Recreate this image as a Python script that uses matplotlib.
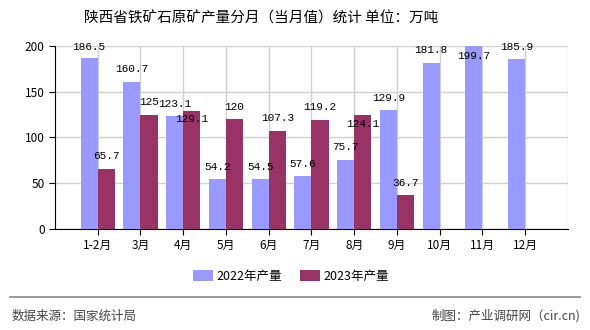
import matplotlib.pyplot as plt
import numpy as np

plt.rcParams['font.family'] = ['Noto Sans CJK SC', 'DejaVu Sans']

months = ['1-2月', '3月', '4月', '5月', '6月', '7月', '8月', '9月', '10月', '11月', '12月']
prod_2022 = [186.5, 160.7, 123.1, 54.2, 54.5, 57.6, 75.7, 129.9, 181.8, 199.7, 185.9]
prod_2023 = [65.7, 125, 129.1, 120, 107.3, 119.2, 124.1, 36.7]

c22 = '#9999FF'
c23 = '#993366'

fig = plt.figure(figsize=(5.9, 3.3), dpi=100)
ax = fig.add_axes([0.0932, 0.306, 0.8695, 0.555])

x = np.arange(len(months))
w = 0.4
b1 = ax.bar(x - w / 2, prod_2022, w, color=c22, label='2022年产量', zorder=3)
x2 = np.arange(len(prod_2023))
b2 = ax.bar(x2 + w / 2, prod_2023, w, color=c23, label='2023年产量', zorder=3)

# value labels (some sit just under the bar top, like the original)
for i, v in enumerate(prod_2022):
    off = min(9, (200 - v) * 0.66 - 0.5) if v < 199 else -7
    ax.annotate(f'{v:g}', (i - w / 2, v), xytext=(0, off), textcoords='offset points',
                ha='center', va='center', fontsize=8, family='Liberation Mono', zorder=5)
below = [2, 6]
for i, v in enumerate(prod_2023):
    off = -6 if i in below else 9
    ax.annotate(f'{v:g}', (i + w / 2, v), xytext=(0, off), textcoords='offset points',
                ha='center', va='center', fontsize=8, family='Liberation Mono', zorder=5)

ax.set_xlim(-1, 11)
ax.set_ylim(0, 200)
ax.set_yticks([0, 50, 100, 150, 200])
ax.set_xticks(x)
ax.set_xticklabels(months)
ax.tick_params(axis='both', labelsize=8.5, length=4, color='black')
ax.grid(True, color='#d0d0d0', linewidth=1, zorder=0)
ax.axvline(11, color='#d0d0d0', linewidth=1, zorder=0)
for s in ['top', 'right']:
    ax.spines[s].set_visible(False)
ax.spines['left'].set_color('black')
ax.spines['bottom'].set_color('black')

fig.text(0.443, 0.945, '陕西省铁矿石原矿产量分月（当月值）统计 单位：万吨', ha='center', va='center',
         fontsize=10.5)

fig.legend(handles=[b1, b2], loc='center', bbox_to_anchor=(0.493, 0.163), ncol=2, frameon=False,
           fontsize=9, handlelength=1.6, handleheight=0.9, columnspacing=1.4, handletextpad=0.3)

fig.add_artist(plt.Line2D([0.017, 0.983], [0.1, 0.1], color='#888888', linewidth=1.2))
fig.text(0.02, 0.042, '数据来源：国家统计局', ha='left', va='center', fontsize=9, color='#444444')
fig.text(0.983, 0.042, '制图：产业调研网（cir.cn)', ha='right', va='center', fontsize=9, color='#444444')

fig.savefig('out.png', dpi=100)
